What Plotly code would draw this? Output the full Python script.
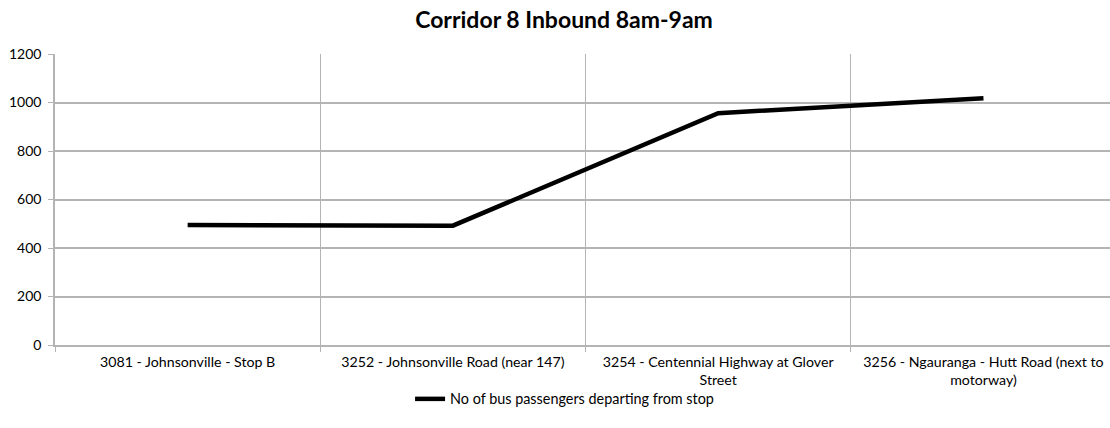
import plotly.graph_objects as go

# Stops along the corridor and boarding counts
stops = [
    "3081 - Johnsonville - Stop B",
    "3252 - Johnsonville Road (near 147)",
    "3254 - Centennial Highway at Glover<br>Street",
    "3256 - Ngauranga - Hutt Road (next to<br>motorway)",
]
passengers = [495, 492, 956, 1018]
y_ticks = [0, 200, 400, 600, 800, 1000, 1200]

FONT = "Lato"
GRID = "#b4b4b4"

fig = go.Figure()
fig.add_trace(go.Scatter(
    x=stops,
    y=passengers,
    mode="lines",
    name="No of bus passengers departing from stop",
    line=dict(color="#000000", width=4.5),
))

fig.update_layout(
    width=1110,
    height=428,
    margin=dict(l=55, r=0, t=54, b=83),
    paper_bgcolor="white",
    plot_bgcolor="white",
    font=dict(family=FONT, size=14, color="#000000"),
    title=dict(
        text="<b>Corridor 8 Inbound 8am-9am</b>",
        x=0.4825,
        xanchor="center",
        xref="paper",
        y=1 - 20 / 428,
        yanchor="middle",
        font=dict(family=FONT, size=23, color="#000000"),
    ),
    showlegend=True,
    legend=dict(
        orientation="h",
        x=0.483,
        xanchor="center",
        yref="container",
        y=1 - 399 / 428,
        yanchor="middle",
        font=dict(family=FONT, size=14.4),
        bgcolor="rgba(0,0,0,0)",
    ),
    xaxis=dict(
        type="category",
        range=[-0.5, 3.477],
        tickson="boundaries",
        automargin=False,
        showgrid=True,
        gridcolor=GRID,
        gridwidth=1,
        showline=True,
        linecolor=GRID,
        linewidth=1.5,
        ticks="outside",
        ticklen=5,
        tickcolor=GRID,
        ticklabelstandoff=3,
        tickfont=dict(family=FONT, size=14.2),
        zeroline=False,
    ),
    yaxis=dict(
        range=[0, 1200],
        tickvals=y_ticks,
        automargin=False,
        showgrid=True,
        gridcolor=GRID,
        gridwidth=1.5,
        showline=True,
        linecolor=GRID,
        linewidth=1.5,
        ticks="outside",
        ticklen=5,
        tickcolor=GRID,
        ticklabelstandoff=4,
        tickfont=dict(family=FONT, size=14),
        zeroline=False,
    ),
)

fig.write_html("out.html")
